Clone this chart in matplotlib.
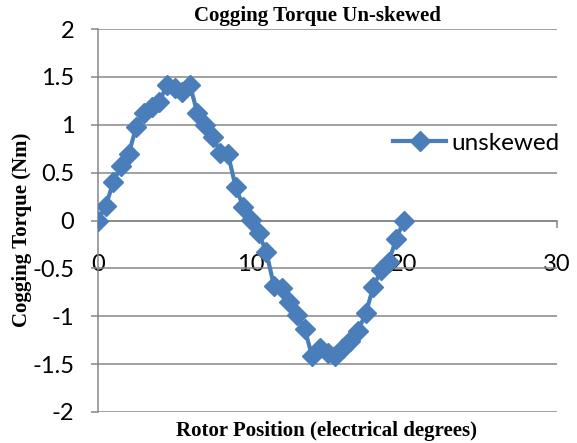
import matplotlib.pyplot as plt

# rotor position (electrical degrees) and cogging torque (Nm)
position = [0, 0.5, 1, 1.5, 2, 2.5, 3, 3.5, 4, 4.5,
            5, 5.5, 6, 6.5, 7, 7.5, 8, 8.5, 9, 9.5,
            10, 10.5, 11, 11.5, 12, 12.5, 13, 13.5, 14, 14.5,
            15, 15.5, 16, 16.5, 17, 17.5, 18, 18.5, 19, 19.5, 20]
torque = [0.00, 0.15, 0.40, 0.57, 0.69, 0.98, 1.12, 1.19, 1.24, 1.41,
          1.38, 1.34, 1.42, 1.12, 1.00, 0.87, 0.71, 0.69, 0.35, 0.14,
          0.01, -0.13, -0.33, -0.68, -0.71, -0.85, -0.99, -1.13, -1.42, -1.33,
          -1.38, -1.42, -1.33, -1.26, -1.15, -0.97, -0.69, -0.52, -0.43, -0.19, 0.00]

yticks = [-2, -1.5, -1, -0.5, 0, 0.5, 1, 1.5, 2]
ytick_labels = ['-2', '-1.5', '-1', '-0.5', '0', '0.5', '1', '1.5', '2']
xticks = [0, 10, 20, 30]
xtick_labels = ['0', '10', '20', '30']

W, H = 577, 443
grey = '#868686'
blue = '#4a7ebb'
tick_font = 'Lato'
label_font = 'Liberation Serif'

fig = plt.figure(figsize=(W / 100, H / 100), dpi=100)
ax = fig.add_axes([98 / W, 1 - 412 / H, (557 - 98) / W, (412 - 29) / H])

ax.plot(position, torque, color=blue, lw=3, marker='D', ms=10,
        label='unskewed', zorder=3)

ax.set_xlim(0, 30)
ax.set_ylim(-2, 2)

ax.set_axisbelow(True)
ax.grid(axis='y', color=grey, lw=1.1)
for s in ['top', 'right']:
    ax.spines[s].set_visible(False)
ax.spines['left'].set_color(grey)
ax.spines['left'].set_linewidth(1.1)
ax.spines['bottom'].set_position(('data', 0))
ax.spines['bottom'].set_color(grey)
ax.spines['bottom'].set_linewidth(1.1)

ax.set_yticks(yticks)
ax.set_yticklabels(ytick_labels)
ax.set_xticks(xticks)
ax.set_xticklabels(xtick_labels)
for lab in ax.get_xticklabels() + ax.get_yticklabels():
    lab.set_fontfamily(tick_font)
    lab.set_fontsize(17)
ax.tick_params(axis='y', length=5, color=grey, width=1.1, pad=12)
ax.tick_params(axis='x', length=5, color=grey, width=1.1, pad=19)

leg = ax.legend(loc='center left', bbox_to_anchor=(393 / W, 1 - 143 / H),
                bbox_transform=fig.transFigure, frameon=False,
                prop={'family': tick_font, 'size': 17.5},
                handlelength=2.2, handletextpad=0.2,
                borderpad=0, borderaxespad=0)

fig.text(317 / W, 1 - 16 / H, 'Cogging Torque Un-skewed', ha='center', va='center',
         fontfamily=label_font, fontweight='bold', fontsize=15)
fig.text(327 / W, 1 - 431 / H, 'Rotor Position (electrical degrees)', ha='center',
         va='center', fontfamily=label_font, fontweight='bold', fontsize=15)
fig.text(22 / W, 1 - 230 / H, 'Cogging Torque (Nm)', ha='center', va='center',
         rotation=90, fontfamily=label_font, fontweight='bold', fontsize=15)

fig.savefig('out.png', dpi=100)
